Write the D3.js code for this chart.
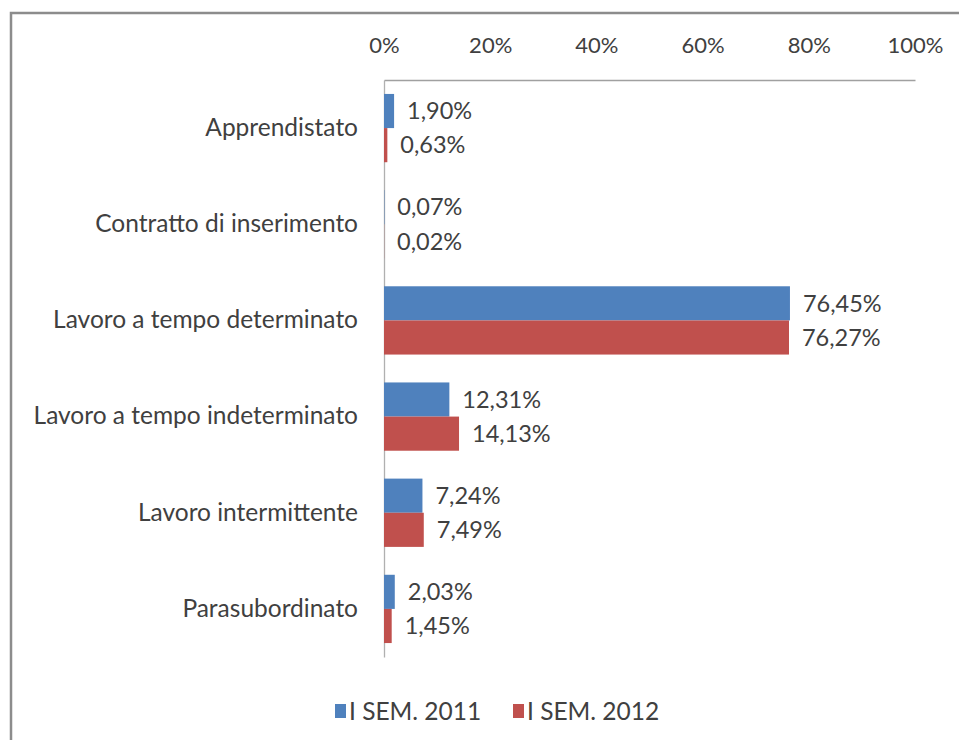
<!DOCTYPE html>
<html>
<head>
<meta charset="utf-8">
<script src="https://cdn.jsdelivr.net/npm/d3@7"></script>
<style>
  body { margin: 0; background: #fff; }
  text { font-family: Lato, "Open Sans", sans-serif; fill: #404040; }
</style>
</head>
<body>
<svg id="chart" width="959" height="740"></svg>
<script>
// values
const categories = [
  'Apprendistato',
  'Contratto di inserimento',
  'Lavoro a tempo determinato',
  'Lavoro a tempo indeterminato',
  'Lavoro intermittente',
  'Parasubordinato'
];
const sem2011 = [1.90, 0.07, 76.45, 12.31, 7.24, 2.03];
const sem2012 = [0.63, 0.02, 76.27, 14.13, 7.49, 1.45];
const seriesNames = ['I SEM. 2011', 'I SEM. 2012'];
const colors = ['#4f81bd', '#c0504d'];
const xTicks = [0, 20, 40, 60, 80, 100];

const svg = d3.select('#chart');
const margin = { top: 80, left: 384, right: 44, bottom: 83 };
const width = 959 - margin.left - margin.right;
const height = 740 - margin.top - margin.bottom;

// outer frame (right and bottom run off the picture)
svg.append('path')
  .attr('d', 'M11,740 V13 H959')
  .attr('fill', 'none')
  .attr('stroke', '#8c8c8c')
  .attr('stroke-width', 2.5);

const g = svg.append('g')
  .attr('transform', 'translate(' + margin.left + ',' + margin.top + ')');

const x = d3.scaleLinear().domain([0, 100]).range([0, width]);
const y = d3.scaleBand().domain(categories).range([0, height]).paddingInner(0.29).paddingOuter(0.145);
const ySub = d3.scaleBand().domain([0, 1]).range([0, y.bandwidth()]);

const fmt = v => v.toFixed(2).replace('.', ',') + '%';

// top axis
const xAxis = d3.axisTop(x).tickValues(xTicks).tickFormat(d => d + '%').tickSize(0).tickPadding(27);
g.append('g').call(xAxis)
  .call(s => s.select('.domain').attr('stroke', '#a0a0a0').attr('stroke-width', 1.3))
  .call(s => s.selectAll('text').style('font-size', '22px').attr('fill', '#404040'));

// left axis
const yAxis = d3.axisLeft(y).tickSize(0).tickPadding(26);
g.append('g').call(yAxis)
  .call(s => s.select('.domain').attr('stroke', '#b0b0b0').attr('stroke-width', 1.3))
  .call(s => s.selectAll('text').style('font-size', '24.5px').attr('fill', '#404040'));

const rows = categories.map((c, i) => [
  { cat: c, s: 0, v: sem2011[i] },
  { cat: c, s: 1, v: sem2012[i] }
]).flat();

g.selectAll('rect.bar').data(rows).join('rect')
  .attr('class', 'bar')
  .attr('x', x(0))
  .attr('y', d => y(d.cat) + ySub(d.s))
  .attr('width', d => x(d.v) - x(0))
  .attr('height', ySub.bandwidth())
  .attr('fill', d => colors[d.s]);

g.selectAll('text.val').data(rows).join('text')
  .attr('class', 'val')
  .attr('x', d => x(d.v) + 13)
  .attr('y', d => y(d.cat) + ySub(d.s) + ySub.bandwidth() / 2)
  .attr('dy', '0.35em')
  .style('font-size', '23.5px')
  .text(d => fmt(d.v));

// legend
const legend = svg.append('g').attr('transform', 'translate(335,711)');
const legendX = [0, 178];
seriesNames.forEach((name, i) => {
  const item = legend.append('g').attr('transform', 'translate(' + legendX[i] + ',0)');
  item.append('rect').attr('x', 0).attr('y', -7).attr('width', 11).attr('height', 14).attr('fill', colors[i]);
  item.append('text').attr('x', 14).attr('dy', '0.35em').style('font-size', '24.5px').text(name);
});
</script>
</body>
</html>
